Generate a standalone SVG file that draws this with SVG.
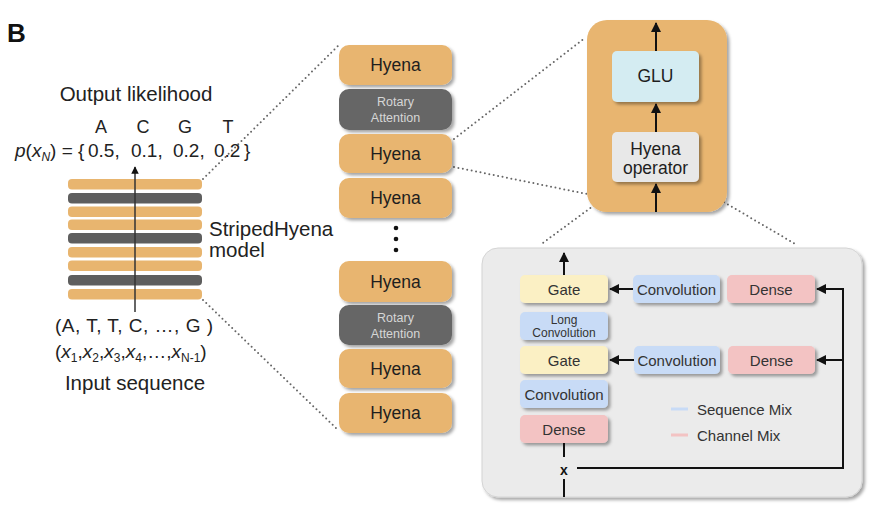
<svg xmlns="http://www.w3.org/2000/svg" width="875" height="507" viewBox="0 0 875 507">
<defs>
<filter id="sh" x="-20%" y="-20%" width="150%" height="160%">
<feDropShadow dx="2.5" dy="2.5" stdDeviation="1.5" flood-color="#000" flood-opacity="0.35"/>
</filter>
<marker id="ah" viewBox="0 0 10 10" refX="9" refY="5" markerWidth="5" markerHeight="5" orient="auto-start-reverse" markerUnits="strokeWidth">
<path d="M0,0 L10,5 L0,10 z" fill="#111"/>
</marker>
</defs>
<style>
text{font-family:"Liberation Sans",Arial,sans-serif;}
.lbl{font-size:20.5px;fill:#222;}
.orange{fill:#E8B56F;}
.stripeO{fill:#E8B56F;}
.stripeG{fill:#5E5E5E;}
.hy{font-size:17.5px;fill:#1e1e1e;text-anchor:middle;}
.rot{font-size:12.5px;fill:#d6d6d6;text-anchor:middle;}
.bx{font-size:15px;fill:#333;text-anchor:middle;}
.sm{font-size:12px;fill:#333;text-anchor:middle;}
.dot{fill:none;stroke:#666;stroke-width:2;stroke-dasharray:0 4.5;stroke-linecap:round;}
.ar{fill:none;stroke:#111;stroke-width:2;}
.ln{fill:none;stroke:#111;stroke-width:2;}
</style>
<rect width="875" height="507" fill="#fff"/>
<text x="7" y="42" font-size="26" font-weight="bold" fill="#111">B</text>

<g id="connectors">
<line class="dot" x1="203" y1="179" x2="338" y2="46"/>
<line class="dot" x1="203" y1="300" x2="338" y2="430"/>
<line class="dot" x1="454" y1="139" x2="585" y2="38"/>
<line class="dot" x1="454" y1="167" x2="587" y2="194"/>
<line class="dot" x1="623" y1="184" x2="540" y2="245"/>
<line class="dot" x1="693" y1="184" x2="797" y2="245"/>
</g>

<g id="stripedhyena-model">
<rect class="stripeO" x="68" y="179" width="134" height="10.5" rx="4"/>
<rect class="stripeG" x="68" y="193" width="134" height="10.5" rx="4"/>
<rect class="stripeO" x="68" y="206.5" width="134" height="10.5" rx="4"/>
<rect class="stripeO" x="68" y="219.5" width="134" height="10.5" rx="4"/>
<rect class="stripeG" x="68" y="233" width="134" height="10.5" rx="4"/>
<rect class="stripeO" x="68" y="247" width="134" height="10.5" rx="4"/>
<rect class="stripeO" x="68" y="260.5" width="134" height="10.5" rx="4"/>
<rect class="stripeG" x="68" y="275" width="134" height="10.5" rx="4"/>
<rect class="stripeO" x="68" y="289" width="134" height="10.5" rx="4"/>
<line x1="135" y1="312" x2="135" y2="167" stroke="#333" stroke-width="1.5" marker-end="url(#ah)"/>
<text class="lbl" x="209" y="236" font-size="20">StripedHyena</text>
<text class="lbl" x="209" y="257" font-size="20">model</text>
</g>

<g id="output-likelihood">
<text class="lbl" x="136" y="101" text-anchor="middle">Output likelihood</text>
<g font-size="18" fill="#222" text-anchor="middle">
<text x="101" y="133">A</text>
<text x="143" y="133">C</text>
<text x="185" y="133">G</text>
<text x="228" y="133">T</text>
</g>
<text x="15" y="157" font-size="19" fill="#222"><tspan font-style="italic">p</tspan>(<tspan font-style="italic">x</tspan><tspan font-style="italic" font-size="12" dy="4">N</tspan><tspan dy="-4">) = {</tspan></text>
<g font-size="19" fill="#222">
<text x="88" y="157">0.5,</text>
<text x="131" y="157">0.1,</text>
<text x="173" y="157">0.2,</text>
<text x="214" y="157">0.2</text>
<text x="244" y="157">}</text>
</g>
</g>

<g id="input-sequence">
<text x="55" y="332" font-size="19" fill="#222" textLength="158" lengthAdjust="spacing">(A, T, T, C, …,  G )</text>
<text x="55" y="358" font-size="19" fill="#222">(<tspan font-style="italic">x</tspan><tspan font-size="12" dy="4">1</tspan><tspan dy="-4">,</tspan><tspan font-style="italic">x</tspan><tspan font-size="12" dy="4">2</tspan><tspan dy="-4">,</tspan><tspan font-style="italic">x</tspan><tspan font-size="12" dy="4">3</tspan><tspan dy="-4">,</tspan><tspan font-style="italic">x</tspan><tspan font-size="12" dy="4">4</tspan><tspan dy="-4">,…,</tspan><tspan font-style="italic">x</tspan><tspan font-size="12" dy="4">N-1</tspan><tspan dy="-4">)</tspan></text>
<text class="lbl" x="135" y="390" text-anchor="middle">Input sequence</text>
</g>

<g id="layer-stack">
<g id="hyena-1"><rect class="orange" x="339" y="45" width="113" height="40" rx="10" filter="url(#sh)"/><text class="hy" x="395.5" y="71">Hyena</text></g>
<g id="rotary-1"><rect fill="#666" x="339" y="89" width="113" height="41" rx="10" filter="url(#sh)"/><text class="rot" x="395.5" y="106">Rotary</text><text class="rot" x="395.5" y="122">Attention</text></g>
<g id="hyena-2"><rect class="orange" x="339" y="134" width="113" height="39" rx="10" filter="url(#sh)"/><text class="hy" x="395.5" y="160">Hyena</text></g>
<g id="hyena-3"><rect class="orange" x="339" y="178" width="113" height="40" rx="10" filter="url(#sh)"/><text class="hy" x="395.5" y="204">Hyena</text></g>
<g id="ellipsis" fill="#111"><circle cx="396" cy="228" r="2.3"/><circle cx="396" cy="239" r="2.3"/><circle cx="396" cy="250" r="2.3"/></g>
<g id="hyena-4"><rect class="orange" x="339" y="261" width="113" height="41" rx="10" filter="url(#sh)"/><text class="hy" x="395.5" y="288">Hyena</text></g>
<g id="rotary-2"><rect fill="#666" x="339" y="305" width="113" height="40" rx="10" filter="url(#sh)"/><text class="rot" x="395.5" y="322">Rotary</text><text class="rot" x="395.5" y="338">Attention</text></g>
<g id="hyena-5"><rect class="orange" x="339" y="349" width="113" height="39" rx="10" filter="url(#sh)"/><text class="hy" x="395.5" y="375">Hyena</text></g>
<g id="hyena-6"><rect class="orange" x="339" y="393" width="113" height="40" rx="10" filter="url(#sh)"/><text class="hy" x="395.5" y="419">Hyena</text></g>
</g>

<g id="hyena-block">
<rect class="orange" x="587" y="20" width="140" height="192" rx="20" filter="url(#sh)"/>
<g id="glu"><rect fill="#D4ECF2" x="612" y="51" width="87" height="51" rx="5" filter="url(#sh)"/><text class="hy" x="655.5" y="82">GLU</text></g>
<g id="hyena-operator"><rect fill="#E8E8E8" x="612" y="132" width="87" height="50" rx="5" filter="url(#sh)"/><text class="hy" x="655.5" y="155" font-size="16.5">Hyena</text><text class="hy" x="655.5" y="174" font-size="16.5">operator</text></g>
<line class="ar" x1="656" y1="51" x2="656" y2="23" marker-end="url(#ah)"/>
<line class="ar" x1="656" y1="132" x2="656" y2="104" marker-end="url(#ah)"/>
<line class="ar" x1="656" y1="212" x2="656" y2="184" marker-end="url(#ah)"/>
</g>

<g id="operator-detail">
<rect fill="#EBEBEB" stroke="#d4d4d4" stroke-width="1" x="482" y="248" width="380" height="249" rx="16" filter="url(#sh)"/>
<g id="gate-1"><rect fill="#FBF0C4" x="520" y="275" width="88" height="28" rx="5" filter="url(#sh)"/><text class="bx" x="564" y="294.5">Gate</text></g>
<g id="long-conv"><rect fill="#C8DBF6" x="520" y="312" width="88" height="28" rx="5" filter="url(#sh)"/><text class="sm" x="564" y="323.5">Long</text><text class="sm" x="564" y="336.5">Convolution</text></g>
<g id="gate-2"><rect fill="#FBF0C4" x="520" y="346" width="88" height="28" rx="5" filter="url(#sh)"/><text class="bx" x="564" y="365.5">Gate</text></g>
<g id="conv-3"><rect fill="#C8DBF6" x="520" y="380" width="88" height="28" rx="5" filter="url(#sh)"/><text class="bx" x="564" y="399.5">Convolution</text></g>
<g id="dense-3"><rect fill="#F3C3C3" x="520" y="415" width="88" height="28" rx="5" filter="url(#sh)"/><text class="bx" x="564" y="434.5">Dense</text></g>
<g id="conv-1"><rect fill="#C8DBF6" x="633" y="275" width="87" height="28" rx="5" filter="url(#sh)"/><text class="bx" x="676.5" y="294.5">Convolution</text></g>
<g id="dense-1"><rect fill="#F3C3C3" x="727" y="275" width="88" height="28" rx="5" filter="url(#sh)"/><text class="bx" x="771" y="294.5">Dense</text></g>
<g id="conv-2"><rect fill="#C8DBF6" x="634" y="346" width="86" height="28" rx="5" filter="url(#sh)"/><text class="bx" x="677" y="365.5">Convolution</text></g>
<g id="dense-2"><rect fill="#F3C3C3" x="728" y="346" width="87" height="28" rx="5" filter="url(#sh)"/><text class="bx" x="771.5" y="365.5">Dense</text></g>
<g id="legend">
<line x1="671" y1="409" x2="688" y2="409" stroke="#C8DBF6" stroke-width="3"/>
<text x="697" y="414.5" font-size="15" fill="#333">Sequence Mix</text>
<line x1="671" y1="435" x2="688" y2="435" stroke="#F3C3C3" stroke-width="3"/>
<text x="697" y="440.5" font-size="15" fill="#333">Channel Mix</text>
</g>
<text x="564" y="475" font-size="14" font-weight="bold" fill="#111" text-anchor="middle">x</text>
</g>

<g id="detail-connectors">
<line class="ar" x1="564" y1="275" x2="564" y2="253" marker-end="url(#ah)"/>
<line class="ar" x1="633" y1="289" x2="610" y2="289" marker-end="url(#ah)"/>
<line class="ar" x1="634" y1="360" x2="610" y2="360" marker-end="url(#ah)"/>
<path class="ln" d="M577,468 H843 V289 H817" marker-end="url(#ah)"/>
<line class="ar" x1="843" y1="360" x2="817" y2="360" marker-end="url(#ah)"/>
<line class="ln" x1="564" y1="443" x2="564" y2="457"/>
<line class="ln" x1="564" y1="479" x2="564" y2="497"/>
</g>
</svg>
